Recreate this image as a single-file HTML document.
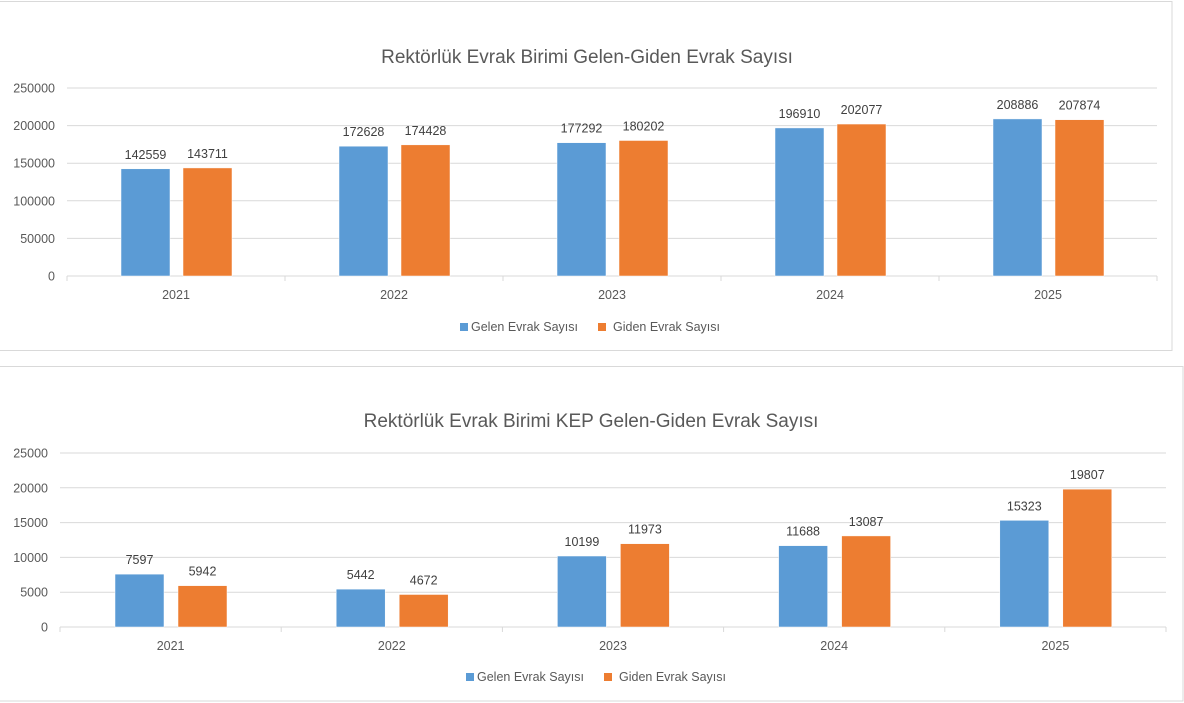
<!DOCTYPE html>
<html><head><meta charset="utf-8"><style>
body{margin:0;background:#fff;width:1184px;height:703px;overflow:hidden}
svg{display:block;font-family:"Liberation Sans",sans-serif}
</style></head><body>
<svg id="s" width="1184" height="703" xmlns="http://www.w3.org/2000/svg"></svg>
<script>
const s=document.getElementById('s');let h='';
h+='<rect x="-1" y="1.5" width="1173" height="349" fill="#fff" stroke="#d9d9d9"/>';
h+='<rect x="-1" y="366.5" width="1184" height="334.5" fill="#fff" stroke="#d9d9d9"/>';
function chart(o){
 h+=`<text x="${o.tx}" y="${o.ty}" font-size="19" fill="#595959" text-anchor="middle">${o.title}</text>`;
 const n=5,step=o.max/5;
 for(let i=0;i<=5;i++){const y=o.y0-(o.y0-o.yTop)*i/5;
  h+=`<line x1="${o.x0}" x2="${o.x1}" y1="${y}" y2="${y}" stroke="#d9d9d9"/>`;
  h+=`<text x="${o.x0-12}" y="${y+4.5}" font-size="12.5" fill="#595959" text-anchor="end">${step*i}</text>`;}
 const cw=(o.x1-o.x0)/n;
 for(let i=0;i<=n;i++){const x=o.x0+cw*i;h+=`<line x1="${x}" x2="${x}" y1="${o.y0}" y2="${o.y0+5}" stroke="#d9d9d9"/>`;}
 const yrs=[2021,2022,2023,2024,2025];
 yrs.forEach((yr,i)=>{const c=o.x0+cw*(i+.5);
  h+=`<text x="${c}" y="${o.y0+23}" font-size="12.5" fill="#595959" text-anchor="middle">${yr}</text>`;
  [[o.a[i],c-o.off1,'#5b9bd5'],[o.b[i],c+o.off2,'#ed7d31']].forEach(([v,x,col])=>{
   const y=o.y0-(o.y0-o.yTop)*v/o.max;
   h+=`<rect x="${x}" y="${y}" width="49" height="${o.y0-y}" fill="${col}" stroke="#fff" stroke-width="0.5"/>`;
   h+=`<text x="${x+24.5}" y="${y-10}" font-size="12.5" fill="#404040" text-anchor="middle">${v}</text>`;});});
 h+=`<rect x="${o.lx}" y="${o.ly}" width="8" height="8" fill="#5b9bd5"/><text x="${o.lx+11}" y="${o.ly+8}" font-size="12.5" fill="#595959">Gelen Evrak Sayısı</text>`;
 h+=`<rect x="${o.lx+138}" y="${o.ly}" width="8" height="8" fill="#ed7d31"/><text x="${o.lx+153}" y="${o.ly+8}" font-size="12.5" fill="#595959">Giden Evrak Sayısı</text>`;
}
chart({title:'Rektörlük Evrak Birimi Gelen-Giden Evrak Sayısı',tx:587,ty:63,x0:67,x1:1157,y0:276,yTop:88,max:250000,
 a:[142559,172628,177292,196910,208886],b:[143711,174428,180202,202077,207874],off1:55,off2:7,lx:460,ly:323});
chart({title:'Rektörlük Evrak Birimi KEP Gelen-Giden Evrak Sayısı',tx:591,ty:427,x0:60,x1:1166,y0:627,yTop:453,max:25000,
 a:[7597,5442,10199,11688,15323],b:[5942,4672,11973,13087,19807],off1:55.6,off2:7.4,lx:466,ly:673});
s.innerHTML=h;
</script>
</body></html>
